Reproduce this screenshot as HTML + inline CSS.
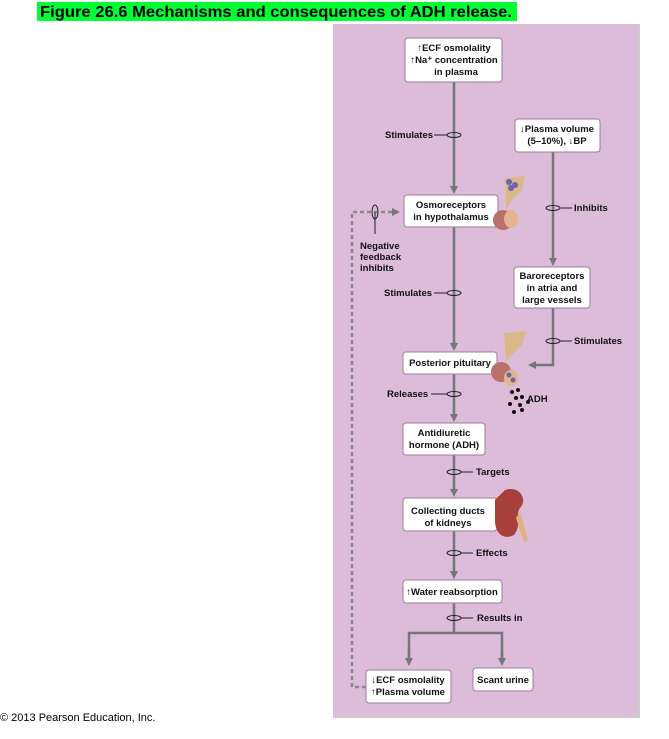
<!DOCTYPE html>
<html><head><meta charset="utf-8"><style>
html,body{margin:0;padding:0;background:#fff;}
svg{display:block;font-family:"Liberation Sans",Arial,sans-serif;}
.b{fill:#fff;stroke:#a07a9c;stroke-width:1;}
.t{font-size:9.5px;font-weight:bold;fill:#111;text-anchor:middle;}
.l{font-size:9.5px;font-weight:bold;fill:#111;}
.ln{stroke:#777;stroke-width:2.5;fill:none;}
.e{fill:none;stroke:#222;stroke-width:1;}
</style></head><body>
<svg width="669" height="739" viewBox="0 0 669 739">
<defs><marker id="a" markerWidth="8" markerHeight="8" refX="4" refY="4" orient="auto" markerUnits="userSpaceOnUse"><path d="M0,0 L8,4 L0,8 z" fill="#777"/></marker></defs>
<rect x="37" y="2" width="480" height="19" fill="#00ff33"/>
<text x="40" y="17" font-size="16" font-weight="bold" textLength="472" lengthAdjust="spacingAndGlyphs">Figure 26.6  Mechanisms and consequences of ADH release.</text>
<rect x="333" y="24" width="305" height="692" fill="#dcbcd9"/>
<rect x="638" y="24" width="2" height="692" fill="#ccc"/>
<rect x="333" y="716" width="307" height="2" fill="#ccc"/>
<text x="0" y="721" font-size="11">© 2013 Pearson Education, Inc.</text>

<!-- lines -->
<line class="ln" x1="454" y1="82" x2="454" y2="190" marker-end="url(#a)"/>
<line class="ln" x1="454" y1="227" x2="454" y2="347" marker-end="url(#a)"/>
<line class="ln" x1="454" y1="374" x2="454" y2="418" marker-end="url(#a)"/>
<line class="ln" x1="454" y1="455" x2="454" y2="493" marker-end="url(#a)"/>
<line class="ln" x1="454" y1="531" x2="454" y2="575" marker-end="url(#a)"/>
<line class="ln" x1="454" y1="603" x2="454" y2="633"/>
<polyline class="ln" points="409,663 409,633 502,633 502,662" />
<line class="ln" x1="409" y1="650" x2="409" y2="662" marker-end="url(#a)"/>
<line class="ln" x1="502" y1="650" x2="502" y2="662" marker-end="url(#a)"/>
<line class="ln" x1="553" y1="152" x2="553" y2="262" marker-end="url(#a)"/>
<polyline class="ln" points="553,308 553,365 532,365" marker-end="url(#a)"/>
<polyline points="366,687 352,687 352,212 396,212" fill="none" stroke="#888" stroke-width="2.5" stroke-dasharray="4,3" marker-end="url(#a)"/>
<line x1="375" y1="212" x2="375" y2="234" stroke="#222" stroke-width="1"/>
<ellipse class="e" cx="375" cy="212" rx="3" ry="7"/>

<!-- label ellipses -->
<g class="e">
<ellipse cx="454" cy="135" rx="7" ry="2.5"/><line x1="434" y1="135" x2="447" y2="135"/>
<ellipse cx="454" cy="293" rx="7" ry="2.5"/><line x1="434" y1="293" x2="447" y2="293"/>
<ellipse cx="454" cy="394" rx="7" ry="2.5"/><line x1="431" y1="394" x2="447" y2="394"/>
<ellipse cx="454" cy="472" rx="7" ry="2.5"/><line x1="461" y1="472" x2="473" y2="472"/>
<ellipse cx="454" cy="553" rx="7" ry="2.5"/><line x1="461" y1="553" x2="473" y2="553"/>
<ellipse cx="454" cy="618" rx="7" ry="2.5"/><line x1="461" y1="618" x2="473" y2="618"/>
<ellipse cx="553" cy="208" rx="7" ry="2.5"/><line x1="560" y1="208" x2="572" y2="208"/>
<ellipse cx="553" cy="341" rx="7" ry="2.5"/><line x1="560" y1="341" x2="572" y2="341"/>
</g>
<text class="l" x="385" y="138">Stimulates</text>
<text class="l" x="384" y="296">Stimulates</text>
<text class="l" x="387" y="397">Releases</text>
<text class="l" x="476" y="475">Targets</text>
<text class="l" x="476" y="556">Effects</text>
<text class="l" x="477" y="621">Results in</text>
<text class="l" x="574" y="211">Inhibits</text>
<text class="l" x="574" y="344">Stimulates</text>
<text class="l" x="360" y="249">Negative</text>
<text class="l" x="360" y="260">feedback</text>
<text class="l" x="360" y="271">inhibits</text>

<!-- boxes -->
<rect class="b" x="405" y="38" width="97" height="44" rx="3"/>
<text class="t" x="454" y="51">↑ECF osmolality</text>
<text class="t" x="454" y="63">↑Na⁺ concentration</text>
<text class="t" x="456" y="75">in plasma</text>
<rect class="b" x="515" y="119" width="85" height="33" rx="3"/>
<text class="t" x="557" y="132">↓Plasma volume</text>
<text class="t" x="557" y="144">(5–10%), ↓BP</text>
<rect class="b" x="404" y="195" width="94" height="32" rx="3"/>
<text class="t" x="451" y="208">Osmoreceptors</text>
<text class="t" x="451" y="220">in hypothalamus</text>
<rect class="b" x="514" y="267" width="76" height="41" rx="3"/>
<text class="t" x="552" y="279">Baroreceptors</text>
<text class="t" x="552" y="291">in atria and</text>
<text class="t" x="552" y="303">large vessels</text>
<rect class="b" x="403" y="352" width="94" height="22" rx="3"/>
<text class="t" x="450" y="366">Posterior pituitary</text>
<rect class="b" x="403" y="423" width="82" height="32" rx="3"/>
<text class="t" x="444" y="436">Antidiuretic</text>
<text class="t" x="444" y="448">hormone (ADH)</text>
<rect class="b" x="403" y="498" width="94" height="33" rx="3"/>
<text class="t" x="448" y="514">Collecting ducts</text>
<text class="t" x="448" y="526">of kidneys</text>
<rect class="b" x="403" y="580" width="99" height="23" rx="3"/>
<text class="t" x="452" y="595">↑Water reabsorption</text>
<rect class="b" x="366" y="670" width="85" height="33" rx="3"/>
<text class="t" x="408" y="683">↓ECF osmolality</text>
<text class="t" x="408" y="695">↑Plasma volume</text>
<rect class="b" x="473" y="668" width="60" height="23" rx="3"/>
<text class="t" x="503" y="683">Scant urine</text>

<!-- illustrations -->
<path d="M505,178 L525,176 L522,190 L512,200 L506,210 Z" fill="#d9b98a"/>
<ellipse cx="503" cy="220" rx="10" ry="10" fill="#b8706a"/>
<ellipse cx="511" cy="219" rx="7" ry="9" fill="#e6b48c"/>
<circle cx="509" cy="182" r="3" fill="#7060b0"/><circle cx="515" cy="185" r="3" fill="#7060b0"/><circle cx="511" cy="188" r="3" fill="#7060b0"/>
<path d="M504,333 L526,331 L522,345 L512,355 L506,362 Z" fill="#d9b98a"/>
<ellipse cx="501" cy="372" rx="10" ry="10" fill="#b8706a"/>
<ellipse cx="511" cy="378" rx="7" ry="8" fill="#e6b48c"/>
<circle cx="509" cy="375" r="2.5" fill="#7060b0"/><circle cx="513" cy="380" r="2.5" fill="#7060b0"/>
<g fill="#111"><circle cx="512" cy="392" r="2"/><circle cx="518" cy="390" r="2"/><circle cx="516" cy="398" r="2"/><circle cx="522" cy="397" r="2"/><circle cx="510" cy="404" r="2"/><circle cx="520" cy="405" r="2"/><circle cx="528" cy="402" r="2"/><circle cx="514" cy="412" r="2"/><circle cx="522" cy="410" r="2"/></g>
<text class="l" x="527" y="402">ADH</text>
<path d="M505,490 C520,485 528,500 520,508 C515,514 522,525 514,535 C505,540 495,535 495,520 L495,500 Z" fill="#a8403a"/>
<path d="M520,512 L528,540 L524,542 L516,518 Z" fill="#e0b080"/>
</svg>
</body></html>
